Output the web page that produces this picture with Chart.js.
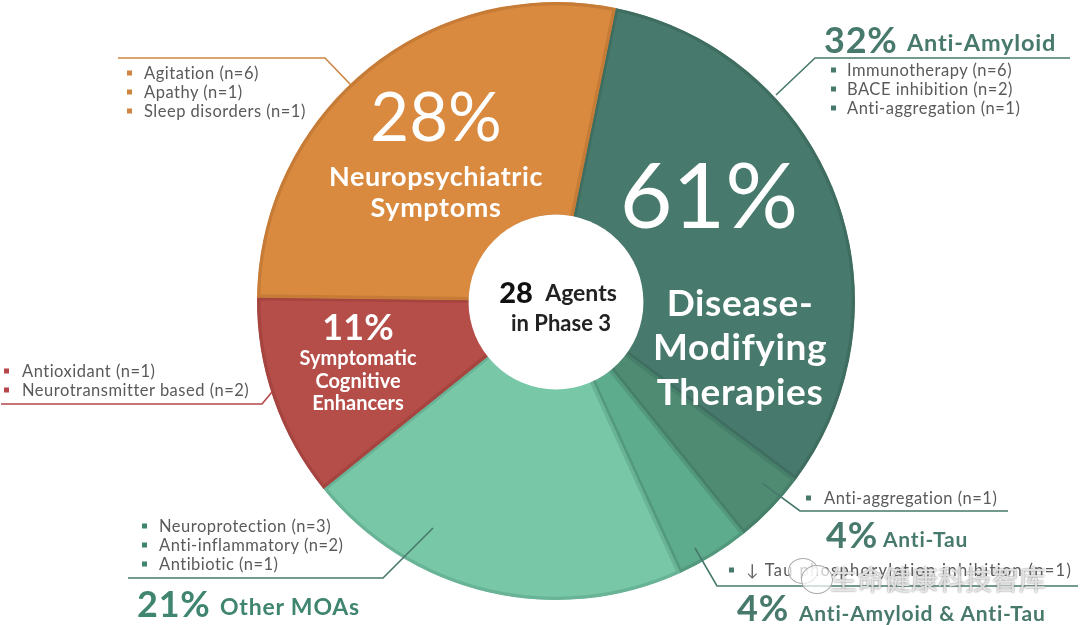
<!DOCTYPE html>
<html>
<head>
<meta charset="utf-8">
<script src="https://cdn.jsdelivr.net/npm/chart.js@4/dist/chart.umd.min.js"></script>
<style>
    html, body { margin: 0; padding: 0; background: #fff; }
    #wrap { position: relative; width: 1080px; height: 625px; overflow: hidden; font-family: Lato, sans-serif; }
    #pie { position: absolute; left: 0; top: 0; }
    .t { position: absolute; white-space: nowrap; transform: translateY(-50%); line-height: 1; }
    .c { transform: translate(-50%, -50%); }
    .w { color: #fff; font-weight: 700; }
    .item { color: #5a5a5a; font-size: 16.5px; letter-spacing: .5px; }
    .b { position: absolute; width: 5px; height: 5px; transform: translateY(-50%); }
    .head { font-weight: 700; letter-spacing: .8px; }
    .wm { font-family: "Noto Sans CJK SC"; font-size: 27px; color: rgba(255,255,255,.75); text-shadow: 0 0 2px #666; }
    .bub { position: absolute; border: 1px solid #aaa; border-radius: 50%; background: rgba(255,255,255,.7); }
</style>
</head>
<body>
<div id="wrap">
    <canvas id="pie" width="1080" height="625"></canvas>
</div>
<script>
const categories = ['Anti-Amyloid', 'Anti-Tau', 'Anti-Amyloid & Anti-Tau', 'Other MOAs', 'Symptomatic Cognitive Enhancers', 'Neuropsychiatric Symptoms'];
const values = [32, 4, 4, 21, 11, 28];
const fills = ['#47796c', '#4f8b73', '#5eac8e', '#78c8a8', '#b54d48', '#d98a3f'];
const edges = ['#3f6e61', '#47806a', '#53997e', '#69b397', '#a64440', '#c67c36'];

const teal = '#47796c', orange = '#cf8540', red = '#b5474a', green = '#3f8570';

// callout lines, [color, points]
const leaders = [
    [orange, [[118, 58], [325, 58], [351, 85]]],
    [teal, [[1070, 58], [815, 58], [776, 95]]],
    [red, [[1, 404], [262, 404], [272, 392]]],
    [teal, [[128, 578], [383, 578], [433, 528]]],
    [teal, [[1008, 511], [800, 511], [762, 483]]],
    [teal, [[1078, 586], [717, 586], [695, 548]]]
];

const leaderLines = {
    id: 'leaderLines',
    afterDatasetsDraw(chart) {
        const c = chart.ctx;
        const arc = chart.getDatasetMeta(0).data[0];
        c.save();
        // plain white hole, the slices have no edge on that side
        c.fillStyle = '#fff';
        c.beginPath();
        c.arc(arc.x, arc.y + 1, arc.innerRadius + 4, 0, Math.PI * 2);
        c.fill();
        c.lineWidth = 1.6;
        leaders.forEach(([color, pts]) => {
            c.strokeStyle = color;
            c.beginPath();
            pts.forEach((p, i) => i ? c.lineTo(p[0], p[1]) : c.moveTo(p[0], p[1]));
            c.stroke();
        });
        c.restore();
    }
};

new Chart(document.getElementById('pie'), {
    type: 'doughnut',
    data: {
        labels: categories,
        datasets: [{
            data: values,
            backgroundColor: fills,
            borderColor: edges,
            borderWidth: 3,
            borderAlign: 'inner'
        }]
    },
    options: {
        responsive: false,
        animation: false,
        rotation: 11.5,
        radius: 299,
        cutout: 84,
        layout: { padding: { left: 32, bottom: 23 } },
        plugins: { legend: { display: false }, tooltip: { enabled: false } }
    },
    plugins: [leaderLines]
});

const wrap = document.getElementById('wrap');

function put(text, x, y, cls, css) {
    const el = document.createElement('div');
    el.className = 't ' + cls;
    el.textContent = text;
    el.style.left = x + 'px';
    el.style.top = y + 'px';
    if (css) el.style.cssText += css;
    wrap.appendChild(el);
    return el;
}

function bullet(x, y, color) {
    const el = document.createElement('div');
    el.className = 'b';
    el.style.cssText += `left:${x}px;top:${y}px;background:${color}`;
    wrap.appendChild(el);
}

function list(items, bx, tx, y0, color, css) {
    items.forEach((s, i) => {
        bullet(bx, y0 + i * 19, color);
        put(s, tx, y0 + i * 19, 'item', css);
    });
}

// inside the pie
put(values[5] + '%', 436, 115, 'c w', 'font-size:67px;font-weight:400');
put('Neuropsychiatric', 436, 175, 'c w', 'font-size:27px;letter-spacing:.6px');
put('Symptoms', 436, 206, 'c w', 'font-size:27px;letter-spacing:.6px');
put('61%', 709, 192, 'c w', 'font-size:91px;font-weight:400');
put('Disease-', 740, 301, 'c w', 'font-size:37px;letter-spacing:.6px');
put('Modifying', 740, 345, 'c w', 'font-size:37px;letter-spacing:.6px');
put('Therapies', 740, 390, 'c w', 'font-size:37px;letter-spacing:.6px');
put(values[4] + '%', 358, 326, 'c w', 'font-size:36px');
put('Symptomatic', 358, 357, 'c w', 'font-size:20px');
put('Cognitive', 358, 380, 'c w', 'font-size:20px');
put('Enhancers', 358, 402, 'c w', 'font-size:20px');

// middle of the ring
put('28', 516, 291, 'c', 'font-size:29px;font-weight:900;color:#111');
put('Agents', 581, 292, 'c', 'font-size:23px;font-weight:700;color:#222');
put('in Phase 3', 561, 323, 'c', 'font-size:22px;font-weight:700;color:#222');

// callouts
put(values[0] + '%', 824, 39, 'head', `font-size:36px;color:${teal}`);
put('Anti-Amyloid', 907, 43, 'head', `font-size:23.5px;color:${teal}`);
list(['Immunotherapy (n=6)', 'BACE inhibition (n=2)', 'Anti-aggregation (n=1)'], 831, 847, 70, teal);

list(['Agitation (n=6)', 'Apathy (n=1)', 'Sleep disorders (n=1)'], 127, 144, 73, orange);
list(['Antioxidant (n=1)', 'Neurotransmitter based (n=2)'], 4, 22, 371, red);
list(['Neuroprotection (n=3)', 'Anti-inflammatory (n=2)', 'Antibiotic (n=1)'], 142, 159, 526, green);

put(values[3] + '%', 137, 603, 'head', `font-size:36px;color:${green}`);
put('Other MOAs', 220, 606, 'head', `font-size:23px;color:${green}`);

list(['Anti-aggregation (n=1)'], 806, 824, 498, teal);
put(values[1] + '%', 826, 534, 'head', `font-size:36px;color:${teal}`);
put('Anti-Tau', 883, 538, 'head', `font-size:21px;color:${teal}`);

list(['↓ Tau phosphorylation inhibition (n=1)'], 729, 746, 570, teal, 'letter-spacing:1.3px');
put(values[2] + '%', 737, 607, 'head', `font-size:36px;color:${teal}`);
put('Anti-Amyloid & Anti-Tau', 799, 612, 'head', `font-size:21px;color:${teal}`);

// watermark
[[788, 558, 28, 24], [801, 565, 30, 27]].forEach(([x, y, w, h]) => {
    const el = document.createElement('div');
    el.className = 'bub';
    el.style.cssText += `left:${x}px;top:${y}px;width:${w}px;height:${h}px`;
    wrap.appendChild(el);
});
put('生命健康科技智库', 830, 578, 'wm');
</script>
</body>
</html>
